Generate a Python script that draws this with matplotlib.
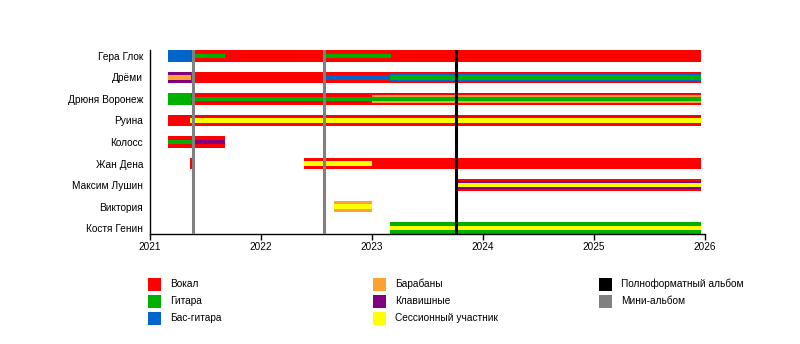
import matplotlib
matplotlib.use('Agg')
import matplotlib.pyplot as plt
from matplotlib.patches import Rectangle

plt.rcParams['font.family'] = ['Liberation Sans', 'DejaVu Sans']

# band members, top to bottom
members = ['Гера Глок', 'Дрёми', 'Дрюня Воронеж', 'Руина', 'Колосс',
           'Жан Дена', 'Максим Лушин', 'Виктория', 'Костя Генин']

# roles
roles = ['vocal', 'guitar', 'bass', 'drums', 'keys', 'session']
role_colors = {
    'vocal': '#ff0000',
    'guitar': '#00b000',
    'bass': '#0066cc',
    'drums': '#ffa033',
    'keys': '#800080',
    'session': '#ffff00',
}

# main bars (member, role, start, end)
full_bars = [
    ('Гера Глок', 'bass', 2021.16, 2021.37),
    ('Гера Глок', 'vocal', 2021.37, 2025.96),
    ('Дрёми', 'keys', 2021.16, 2021.37),
    ('Дрёми', 'vocal', 2021.37, 2025.96),
    ('Дрюня Воронеж', 'guitar', 2021.16, 2021.37),
    ('Дрюня Воронеж', 'vocal', 2021.37, 2025.96),
    ('Руина', 'vocal', 2021.16, 2025.96),
    ('Колосс', 'vocal', 2021.16, 2021.68),
    ('Жан Дена', 'vocal', 2021.36, 2021.39),
    ('Жан Дена', 'vocal', 2022.39, 2025.96),
    ('Максим Лушин', 'vocal', 2023.77, 2025.96),
    ('Виктория', 'drums', 2022.66, 2023.0),
    ('Костя Генин', 'guitar', 2023.16, 2025.96),
]

# secondary roles (wider stripe)
mid_bars = [
    ('Дрёми', 'bass', 2023.16, 2025.96),
    ('Дрюня Воронеж', 'drums', 2023.0, 2025.96),
    ('Максим Лушин', 'keys', 2023.77, 2025.96),
]

# secondary roles (thin stripe)
thin_bars = [
    ('Гера Глок', 'guitar', 2021.39, 2021.68),
    ('Гера Глок', 'guitar', 2022.57, 2023.17),
    ('Дрёми', 'drums', 2021.16, 2021.37),
    ('Дрёми', 'bass', 2022.57, 2023.16),
    ('Дрёми', 'guitar', 2023.16, 2025.96),
    ('Дрюня Воронеж', 'guitar', 2021.37, 2025.96),
    ('Руина', 'session', 2021.36, 2025.96),
    ('Колосс', 'guitar', 2021.16, 2021.39),
    ('Колосс', 'keys', 2021.39, 2021.68),
    ('Жан Дена', 'session', 2022.39, 2023.0),
    ('Максим Лушин', 'session', 2023.77, 2025.96),
    ('Виктория', 'session', 2022.66, 2023.0),
    ('Костя Генин', 'session', 2023.16, 2025.96),
]

# releases
ep_dates = [2021.39, 2022.57]
lp_dates = [2023.76]

years = [2021, 2022, 2023, 2024, 2025, 2026]

legend_labels = ['Вокал', 'Гитара', 'Бас-гитара', 'Барабаны', 'Клавишные',
                 'Сессионный участник', 'Полноформатный альбом', 'Мини-альбом']
legend_colors = [role_colors['vocal'], role_colors['guitar'], role_colors['bass'],
                 role_colors['drums'], role_colors['keys'], role_colors['session'],
                 '#000000', '#808080']

W, H = 800, 344
fig = plt.figure(figsize=(W / 100, H / 100), dpi=100)
ax = fig.add_axes([150 / W, 1 - 234 / H, 555 / W, 184 / H])

n = len(members)
ypos = {m: n - 1 - i for i, m in enumerate(members)}

#draw the layers, widest first
for bars, h in [(full_bars, 0.556), (mid_bars, 0.371), (thin_bars, 0.19)]:
    for m, r, s, e in bars:
        ax.barh(ypos[m], e - s, left=s, height=h, color=role_colors[r],
                linewidth=0, zorder=2)

for d in ep_dates:
    ax.axvline(d, color='#808080', lw=2.2, zorder=5)
for d in lp_dates:
    ax.axvline(d, color='#000000', lw=2.2, zorder=5)

ax.set_xlim(years[0], years[-1])
ax.set_ylim(-0.278, n - 1 + 0.278)
ax.set_xticks(years)
ax.set_yticks([ypos[m] for m in members])
ax.set_yticklabels(members)
ax.tick_params(axis='x', direction='out', length=4, width=1, labelsize=7.2, pad=2)
ax.tick_params(axis='y', length=0, labelsize=7.3, pad=5)
for side in ['top', 'right']:
    ax.spines[side].set_visible(False)
for side in ['left', 'bottom']:
    ax.spines[side].set_linewidth(1)

#legend drawn by hand in three columns
col_x = [148, 373, 599]
row_y = [284, 301, 318]
per_col = [3, 3, 2]
k = 0
for c, cnt in enumerate(per_col):
    for r in range(cnt):
        x0 = col_x[c]
        yc = row_y[r]
        fig.add_artist(Rectangle((x0 / W, 1 - (yc + 6.5) / H), 13 / W, 13 / H,
                                 transform=fig.transFigure,
                                 color=legend_colors[k], lw=0))
        fig.text((x0 + 22) / W, 1 - yc / H, legend_labels[k], fontsize=7.3,
                 va='center', ha='left')
        k += 1

fig.savefig('out.png', dpi=100)
